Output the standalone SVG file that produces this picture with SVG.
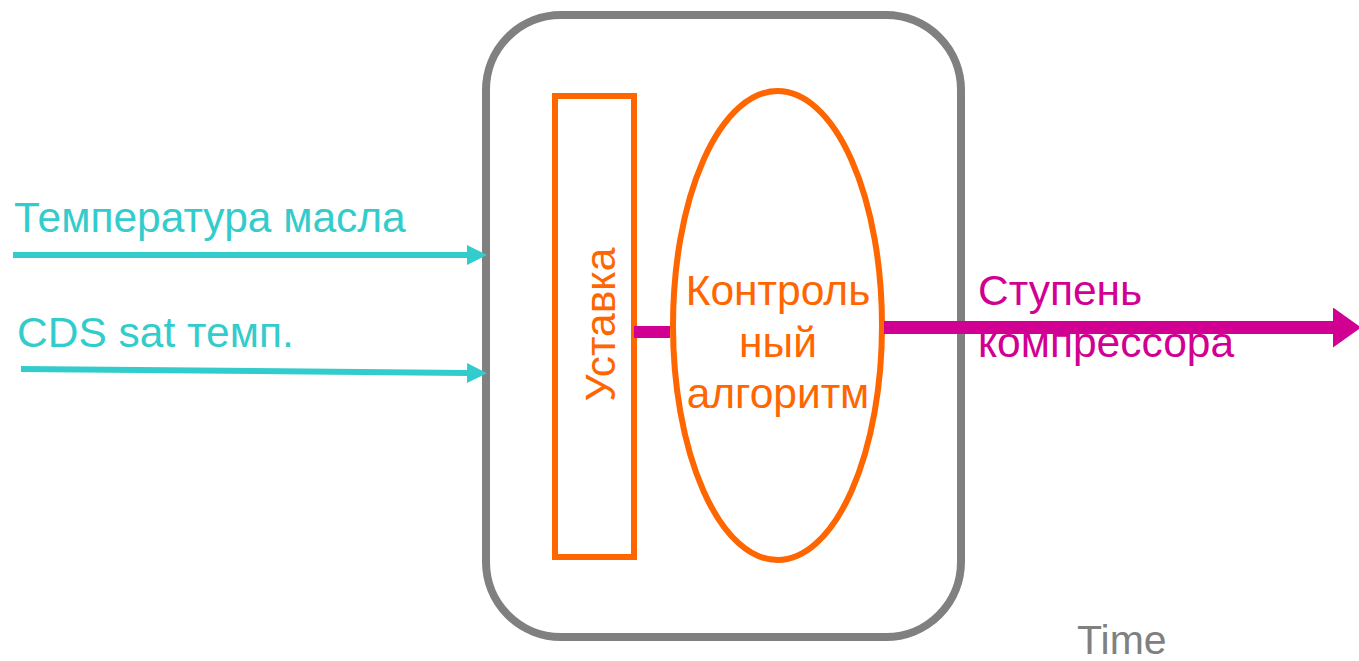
<svg xmlns="http://www.w3.org/2000/svg" width="1359" height="661" viewBox="0 0 1359 661">
<style>
text{font-family:"Liberation Sans",Arial,sans-serif;font-size:42.5px}
.cy{fill:#33CCCC}.or{fill:#FF6600}.mg{fill:#D10093}.gr{fill:#808080}
</style>
<defs>
<marker id="ac" markerUnits="userSpaceOnUse" markerWidth="20" markerHeight="20" refX="0" refY="10" orient="auto"><path d="M0,0 L20,10 L0,20 Z" fill="#33CCCC"/></marker>
<marker id="am" markerUnits="userSpaceOnUse" markerWidth="28" markerHeight="40" refX="0" refY="20" orient="auto"><path d="M0,0 L28,20 L0,40 Z" fill="#D10093"/></marker>
</defs>
<rect width="1359" height="661" fill="#fff"/>
<g id="controller"><rect x="486" y="15" width="475" height="622" rx="75" ry="75" fill="none" stroke="#808080" stroke-width="8"/></g>
<g id="setpoint"><rect x="555" y="96" width="79" height="461" fill="none" stroke="#FF6600" stroke-width="6"/>
<text class="or" transform="translate(615,324.5) rotate(-90)" text-anchor="middle">Уставка</text></g>
<g id="algorithm"><ellipse cx="777.5" cy="325.5" rx="104.5" ry="234.5" fill="none" stroke="#FF6600" stroke-width="6"/>
<text class="or" text-anchor="middle" x="778" y="305">Контроль</text>
<text class="or" text-anchor="middle" x="778" y="357">ный</text>
<text class="or" text-anchor="middle" x="778" y="408">алгоритм</text></g>
<g id="labels">
<text class="cy" x="14" y="232">Температура масла</text>
<text class="cy" x="17" y="347">CDS sat темп.</text>
<text class="mg" x="978" y="305">Ступень</text>
<text class="mg" x="978" y="357">компрессора</text>
<text class="gr" x="1077" y="654" style="font-size:41px">Time</text>
</g>
<g id="connectors">
<line x1="13" y1="255" x2="467" y2="255" stroke="#33CCCC" stroke-width="6" marker-end="url(#ac)"/>
<line x1="21" y1="369" x2="467" y2="373" stroke="#33CCCC" stroke-width="6" marker-end="url(#ac)"/>
<line x1="634" y1="332" x2="670" y2="332" stroke="#D10093" stroke-width="12"/>
<line x1="884" y1="327.5" x2="1333" y2="327.5" stroke="#D10093" stroke-width="13" marker-end="url(#am)"/>
</g>
</svg>
